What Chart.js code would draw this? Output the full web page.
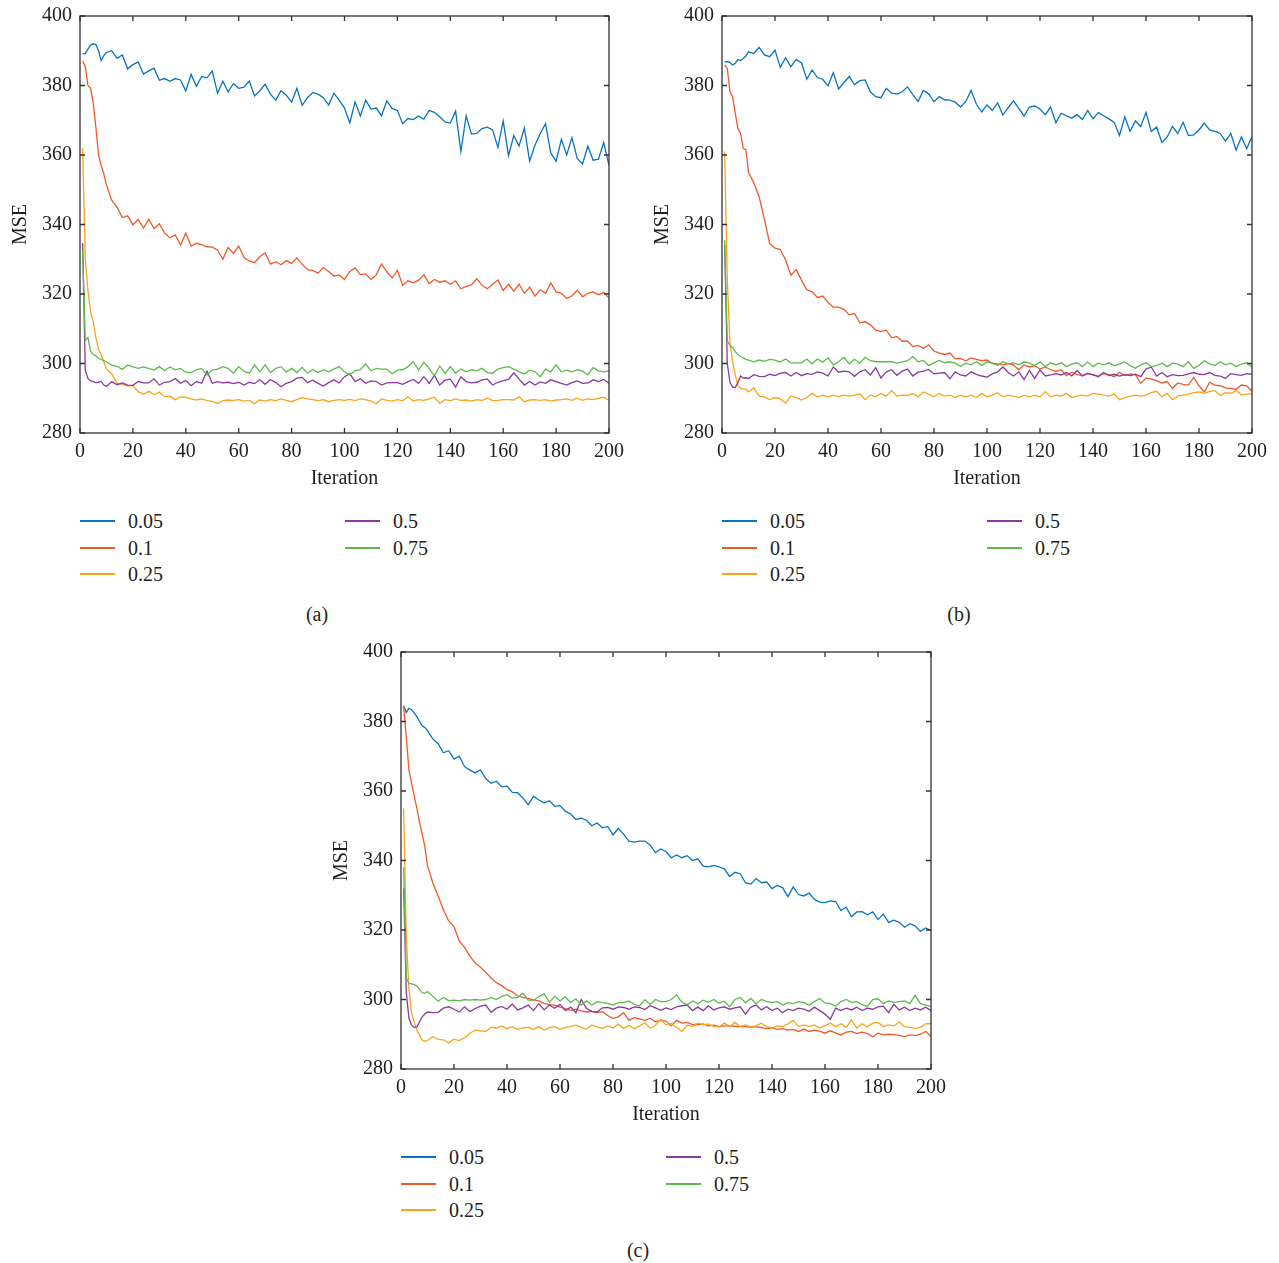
<!DOCTYPE html>
<html lang="en">
<head>
<meta charset="UTF-8">
<title>MSE vs Iteration</title>
<script src="https://cdn.jsdelivr.net/npm/chart.js@4.4.1/dist/chart.umd.min.js"></script>
<style>
  body { margin: 0; background: #fff; width: 1279px; height: 1263px; overflow: hidden; position: relative;
         font-family: 'Liberation Serif', 'Times New Roman', serif; color: #231f20; }
  .panel { position: absolute; }
  .key { position: absolute; font-size: 20px; line-height: 20px; }
  .key .sw { position: absolute; width: 35px; height: 2px; margin-top: -1px; }
  .key .tx { position: absolute; white-space: nowrap; }
  .cap { position: absolute; font-size: 20px; transform: translate(-50%, -50%); }
</style>
</head>
<body>
<div class="panel" id="pa" style="left:0px;top:0px;"><canvas id="ca" width="640" height="500"></canvas></div>
<div class="panel" id="pb" style="left:642px;top:0px;"><canvas id="cb" width="637" height="500"></canvas></div>
<div class="panel" id="pc" style="left:321px;top:636px;"><canvas id="cc" width="640" height="500"></canvas></div>

<script>
// learning rates in the legend
var rates = ['0.05', '0.1', '0.25', '0.5', '0.75'];
var colors = ['#0874C0', '#F0592A', '#F8A51D', '#8A3A9E', '#5DBB4B'];

var iterations = [1,2,3,4,5,6,7,8,9,10,
  12,14,16,18,20,22,24,26,28,30,
  32,34,36,38,40,42,44,46,48,50,
  52,54,56,58,60,62,64,66,68,70,
  72,74,76,78,80,82,84,86,88,90,
  92,94,96,98,100,102,104,106,108,110,
  112,114,116,118,120,122,124,126,128,130,
  132,134,136,138,140,142,144,146,148,150,
  152,154,156,158,160,162,164,166,168,170,
  172,174,176,178,180,182,184,186,188,190,
  192,194,196,198,200];

// ---- panel (a)
var a005 = [389.1,389.2,390.5,391.6,392.0,391.8,390.0,387.2,388.6,389.5,
  390.0,387.8,388.8,384.8,386.0,386.8,383.3,384.2,385.0,381.5,
  382.0,381.2,382.0,381.6,378.4,383.2,379.8,382.6,382.2,384.2,
  377.8,381.2,378.2,380.5,379.2,379.5,381.3,377.0,378.5,380.4,
  377.5,375.8,378.5,377.2,375.2,379.2,374.3,376.5,378.0,377.5,
  376.5,374.4,377.8,375.8,373.5,369.2,375.3,371.2,375.8,373.2,
  373.5,371.3,375.6,373.4,372.8,369.0,370.5,370.2,371.2,370.3,
  372.8,372.3,371.0,369.5,369.2,372.6,361.0,371.3,366.0,366.2,
  367.6,368.0,367.2,362.2,369.8,359.8,365.6,362.6,367.8,358.2,
  362.8,366.2,369.0,360.6,358.2,364.5,360.0,365.0,359.0,357.4,
  362.6,358.5,358.8,363.6,357.0];
var a010 = [387.1,385.4,380.0,379.2,375.0,368.0,360.0,357.0,354.5,351.4,
  347.0,345.0,342.0,342.5,339.9,341.5,339.0,341.5,338.8,340.2,
  337.5,336.2,337.0,334.1,337.5,333.8,334.6,334.2,333.6,333.5,
  332.7,330.0,333.4,331.7,333.8,330.5,329.5,329.0,330.8,331.8,
  328.6,329.3,328.4,329.6,328.8,330.4,328.6,327.0,326.8,326.0,
  327.6,326.5,325.2,325.5,324.2,326.5,327.5,325.6,325.8,324.2,
  325.5,328.6,326.4,324.6,326.8,322.5,323.8,323.2,324.0,325.5,
  323.0,324.2,323.4,323.8,322.8,323.8,321.5,322.2,322.6,324.4,
  322.5,321.5,322.8,324.0,321.0,322.8,320.8,322.8,320.2,322.0,
  319.4,321.2,320.2,323.2,320.6,320.2,318.7,319.5,321.1,319.2,
  320.2,320.6,319.8,320.4,318.8];
var a025 = [362.0,330.0,321.0,315.0,312.0,307.5,304.0,302.5,300.5,298.5,
  297.0,294.3,294.0,293.6,293.6,291.9,291.2,292.0,291.0,291.8,
  290.4,290.6,289.6,290.4,290.3,289.8,289.5,289.8,289.3,289.1,
  288.5,289.3,289.5,289.4,289.6,289.2,289.4,288.4,289.5,289.2,
  289.6,289.3,289.8,289.4,289.0,289.6,290.2,289.8,289.6,289.3,
  289.6,289.0,289.4,289.6,289.4,289.7,289.3,289.8,289.6,289.2,
  288.4,289.8,289.4,289.2,289.6,289.3,290.4,289.2,289.6,289.4,
  289.8,290.3,288.5,289.6,289.3,289.8,289.4,289.5,289.2,289.6,
  289.4,290.0,289.3,289.4,289.6,289.6,289.5,290.4,289.0,289.5,
  289.6,289.4,289.6,289.2,289.5,289.6,289.8,289.4,290.0,289.4,
  289.8,289.6,290.0,290.3,289.4];
var a050 = [334.6,298.0,295.7,295.0,294.8,294.5,294.6,294.9,293.8,293.4,
  294.8,293.9,294.4,293.8,293.7,294.8,294.4,294.4,295.6,293.8,
  294.6,294.8,295.7,294.3,295.1,293.6,294.8,294.3,297.8,294.3,
  294.8,294.4,294.6,294.2,294.6,293.8,294.6,294.2,295.3,294.0,
  295.4,294.5,293.3,294.3,294.8,295.8,296.0,294.5,295.2,294.3,
  293.5,294.5,295.3,294.4,296.2,297.1,294.8,295.6,294.3,295.0,
  294.8,293.8,294.4,294.5,294.5,294.0,294.8,295.4,294.3,296.2,
  294.3,296.6,293.8,295.2,295.5,293.2,296.2,294.8,294.4,294.6,
  295.3,295.5,293.8,294.6,295.1,295.4,297.3,295.5,293.8,294.8,
  293.8,294.7,294.3,295.3,294.8,294.3,293.8,294.5,295.0,294.3,
  294.4,295.3,294.8,295.4,294.3];
var a075 = [332.7,306.6,307.5,303.5,302.6,302.2,301.5,301.2,300.8,300.5,
  299.5,299.2,298.3,299.6,299.0,298.6,299.0,298.6,298.1,299.1,
  297.9,299.0,298.2,298.6,297.5,297.4,298.2,298.6,296.7,298.1,
  298.4,299.1,298.6,297.2,299.1,297.7,297.2,299.6,297.6,299.6,
  297.4,298.6,299.1,297.6,298.6,297.4,298.9,297.2,298.3,297.4,
  298.2,297.6,298.4,299.1,297.6,296.7,297.9,298.2,299.9,297.9,
  298.6,298.4,298.4,297.0,298.1,298.2,299.1,300.5,298.1,300.4,
  298.6,296.4,299.3,297.1,299.1,297.2,298.4,297.6,298.2,297.9,
  298.6,297.4,297.2,298.4,298.8,299.1,298.4,297.6,297.0,298.1,
  297.7,296.2,298.4,297.6,299.6,297.6,298.1,297.6,298.2,297.8,
  296.7,298.8,297.9,297.6,297.9];

// ---- panel (b)
var b005 = [386.7,386.9,386.6,385.9,386.4,387.5,387.2,387.8,388.5,389.7,
  389.2,391.0,388.8,388.3,390.2,385.2,388.0,385.4,387.5,386.5,
  381.8,384.5,382.3,381.8,379.9,383.7,379.0,380.8,382.6,380.2,
  381.4,381.6,378.2,376.8,376.5,379.2,377.8,377.5,378.2,379.6,
  377.4,375.4,378.6,377.6,375.3,376.8,375.9,375.8,375.2,373.8,
  375.4,378.6,374.6,372.4,374.4,372.8,375.0,371.5,373.6,375.6,
  373.4,371.2,373.8,374.1,373.2,371.6,373.8,369.3,372.0,371.3,
  370.6,371.6,370.2,372.8,370.4,372.2,371.3,370.4,369.4,365.6,
  371.0,366.8,369.8,368.2,372.2,366.8,368.0,363.6,365.2,368.2,
  366.2,369.4,365.6,365.8,367.2,369.2,367.2,366.8,366.2,364.0,
  366.2,361.4,365.2,361.8,365.3];
var b010 = [385.9,384.9,378.2,376.8,372.0,367.7,366.2,361.9,361.5,355.0,
  352.0,348.0,341.5,334.5,333.2,332.8,329.8,325.4,327.0,324.0,
  321.2,320.6,319.0,319.4,317.6,316.2,316.2,315.6,314.0,314.4,
  311.7,312.0,311.2,309.6,309.2,309.6,307.4,307.8,306.4,306.4,
  304.9,305.2,304.4,305.4,303.6,303.0,302.6,303.0,301.4,301.5,
  300.8,301.6,301.2,300.8,301.0,300.0,299.9,299.6,300.0,299.6,
  298.2,299.6,299.0,299.4,298.4,299.0,298.2,297.7,298.2,296.5,
  297.5,296.8,296.5,297.2,296.8,296.4,297.1,296.8,296.2,297.4,
  296.6,297.0,296.8,294.3,295.8,295.6,295.0,294.4,294.8,292.8,
  294.4,294.0,293.8,296.0,293.6,291.8,294.6,293.8,293.6,293.0,
  292.8,292.6,293.8,293.6,292.0];
var b025 = [361.0,324.0,306.0,300.6,296.8,293.6,292.9,292.6,292.6,291.8,
  293.0,290.6,290.4,289.6,290.2,289.8,288.6,290.6,290.2,289.5,
  290.2,291.4,290.4,290.9,290.4,290.9,290.4,290.9,290.6,290.9,
  291.2,289.6,290.9,290.4,291.4,290.6,292.2,290.6,290.9,290.8,
  291.4,290.4,291.8,291.2,290.4,291.4,290.6,290.9,290.2,290.9,
  290.4,290.9,290.2,291.4,290.4,290.9,291.6,290.4,290.9,290.6,
  290.2,290.9,290.4,290.9,290.4,291.9,290.4,290.9,290.6,291.4,
  290.2,290.6,290.9,290.6,291.4,291.2,290.9,290.6,291.2,289.6,
  290.2,290.6,290.9,290.6,290.9,291.6,292.0,290.4,291.4,289.6,
  290.6,290.9,291.2,291.6,291.8,291.4,291.9,292.2,290.8,291.6,
  291.4,292.2,291.0,291.2,291.2];
var b050 = [334.1,300.0,294.6,293.2,293.1,294.5,296.4,295.8,295.9,295.7,
  296.8,296.3,296.2,296.9,296.5,297.2,297.4,296.4,297.4,296.5,
  297.1,296.9,297.6,297.2,296.4,299.0,297.5,297.8,297.6,296.3,
  297.6,298.2,296.7,298.8,295.8,297.6,298.2,296.6,297.8,298.4,
  296.4,297.5,297.8,298.3,297.0,297.2,297.4,295.6,297.6,296.7,
  296.4,297.6,296.9,296.4,296.1,297.0,297.6,299.0,297.4,296.4,
  297.6,295.4,298.0,295.7,298.2,296.4,296.7,297.1,296.7,297.4,
  296.4,298.0,296.4,297.1,296.7,296.2,297.4,296.5,296.9,296.4,
  296.8,296.5,296.9,296.2,298.4,299.0,296.4,297.4,296.2,296.8,
  296.5,296.6,297.0,297.4,296.9,296.8,297.4,296.6,296.4,295.7,
  297.1,296.8,296.6,297.1,296.9];
var b075 = [335.5,306.5,305.2,304.6,303.4,302.6,302.0,301.6,301.2,301.0,
  300.5,301.0,300.6,301.2,301.0,300.4,301.3,300.2,300.2,300.2,
  301.3,299.9,301.3,300.4,301.6,299.6,300.5,301.8,299.9,301.2,
  300.1,301.8,300.8,300.5,300.5,300.5,300.5,300.1,300.5,300.8,
  302.0,300.5,300.9,299.4,300.2,300.9,300.2,300.5,300.1,299.2,
  300.1,299.6,300.5,299.4,300.5,300.2,299.4,300.5,299.9,300.2,
  299.6,300.5,300.1,299.4,300.5,299.1,300.2,299.6,300.2,299.1,
  299.8,300.2,299.1,300.5,299.1,300.1,299.6,300.2,299.4,299.8,
  300.5,299.4,298.6,299.6,300.2,299.1,299.4,300.1,299.1,300.1,
  299.8,299.1,300.5,298.6,299.4,300.8,299.9,299.4,300.5,299.6,
  300.1,299.1,299.8,300.2,298.9];

// ---- panel (c)
var c005 = [384.5,382.6,383.8,383.4,382.4,381.4,380.0,378.8,378.3,377.4,
  375.0,373.6,371.0,371.6,369.2,370.0,367.0,366.0,365.2,366.1,
  363.6,362.2,362.8,361.2,361.4,359.6,359.5,358.0,356.0,358.5,
  357.4,356.6,357.2,355.6,355.8,354.2,353.4,351.8,352.2,351.6,
  350.0,350.8,349.4,349.8,347.4,349.2,347.6,345.6,345.3,345.6,
  345.6,344.5,342.3,343.3,342.6,340.8,341.6,340.8,341.4,340.0,
  340.5,338.4,338.2,338.6,338.2,337.6,335.4,336.6,336.2,333.6,
  333.2,334.8,333.6,333.8,331.9,332.8,332.2,329.6,332.4,330.2,
  329.8,330.6,328.8,328.0,327.9,328.4,328.2,325.6,326.6,323.8,
  325.2,325.3,324.4,325.2,323.0,324.6,322.2,322.8,322.2,320.8,
  321.8,321.2,319.6,320.6,319.8];
var c010 = [384.3,375.5,366.0,362.2,358.5,355.0,351.0,347.5,344.0,338.5,
  333.6,329.8,325.8,322.6,321.0,316.8,315.0,312.5,310.5,309.3,
  307.8,306.2,304.8,304.0,302.9,302.2,301.0,300.6,300.3,299.9,
  299.6,298.9,298.5,298.4,297.8,297.4,296.8,297.2,296.7,296.4,
  296.6,296.2,296.5,295.4,294.6,295.0,296.2,294.0,294.8,294.4,
  294.0,294.6,293.6,294.0,293.8,292.4,294.0,293.2,293.4,292.8,
  292.8,293.0,292.4,292.6,292.2,292.4,292.4,292.3,292.2,292.2,
  292.0,292.2,291.9,291.6,291.8,291.4,291.6,291.2,291.4,290.8,
  291.5,290.8,291.2,290.9,290.3,291.0,290.4,289.8,290.6,290.8,
  290.2,290.6,290.2,289.3,290.3,289.8,290.0,289.9,289.7,289.3,
  289.8,289.6,290.0,290.8,289.4];
var c025 = [355.0,318.0,303.0,296.0,293.5,291.2,289.6,288.3,288.0,288.2,
  289.3,288.5,288.4,287.5,288.6,288.2,289.0,290.3,291.2,291.0,
  290.8,292.0,291.8,292.4,291.6,292.2,291.4,291.8,292.0,291.4,
  292.2,291.2,291.9,292.2,291.4,292.0,292.2,292.6,292.0,291.5,
  292.6,292.1,291.7,292.4,291.8,292.9,291.7,292.6,291.6,292.4,
  293.3,291.8,292.6,294.3,292.7,293.1,292.0,290.8,292.6,292.2,
  293.2,292.7,293.0,292.2,292.1,293.2,292.2,293.4,292.2,292.7,
  292.1,292.4,293.2,292.2,291.8,292.4,292.2,293.0,294.0,292.2,
  292.7,292.2,292.7,291.8,292.5,293.2,292.2,293.0,292.0,294.1,
  291.7,293.0,292.1,293.2,293.4,292.2,292.7,292.4,293.5,292.2,
  292.0,291.7,292.0,293.0,293.1];
var c050 = [332.0,302.0,294.6,292.6,292.0,292.1,293.6,295.0,295.8,296.4,
  296.2,296.3,297.5,297.9,297.2,296.4,297.9,296.5,297.4,298.1,
  298.4,296.3,297.5,298.0,297.2,298.7,297.0,297.6,298.4,296.8,
  298.8,297.0,298.4,297.5,298.6,296.8,297.8,296.2,300.0,297.4,
  296.6,296.4,297.6,297.7,297.2,297.9,297.7,297.2,297.9,297.7,
  297.1,298.2,297.6,296.9,297.6,297.1,297.9,298.2,298.4,296.8,
  297.8,296.8,298.2,297.0,297.6,297.9,297.2,297.6,297.9,295.8,
  297.8,298.4,297.0,297.9,296.8,297.5,296.2,297.2,296.8,297.5,
  297.2,296.6,297.8,296.8,295.8,294.3,297.5,296.8,297.5,297.0,
  297.8,296.8,297.5,297.2,297.9,298.1,296.2,298.6,297.0,297.8,
  296.8,297.5,297.0,297.8,296.8];
var c075 = [338.0,306.2,304.6,304.5,304.3,303.9,302.9,302.0,301.8,302.3,
  300.9,299.5,300.6,299.7,299.8,299.6,300.0,299.8,300.0,299.8,
  300.0,300.6,300.0,300.9,301.4,300.4,300.6,301.8,299.8,299.8,
  300.8,301.6,299.2,300.9,299.6,300.8,299.1,300.2,298.4,299.6,
  298.4,299.4,299.1,298.9,298.4,299.1,299.1,299.6,298.6,298.2,
  299.9,298.6,300.0,299.4,299.4,300.0,301.3,299.2,298.5,299.6,
  298.8,299.8,299.2,300.0,298.9,299.5,297.9,300.0,300.6,299.1,
  300.3,298.8,300.0,299.4,299.2,299.4,298.4,299.1,298.8,299.4,
  299.1,298.4,299.4,300.3,299.0,298.8,298.1,299.4,300.0,299.2,
  299.4,298.5,298.0,300.0,300.2,298.8,299.6,299.2,299.4,299.6,
  298.8,301.2,298.8,298.4,298.0];

// axis ranges
var xMin = 0, xMax = 200, xStep = 20;
var yMin = 280, yMax = 400, yStep = 20;

Chart.defaults.font.family = "'Liberation Serif', 'Times New Roman', serif";
Chart.defaults.font.size = 20;
Chart.defaults.color = '#231f20';
Chart.defaults.animation = false;

// box round the plot with inward tick marks on all four sides
var framePlugin = {
  id: 'frame',
  afterDatasetsDraw: function (chart) {
    var ctx = chart.ctx, a = chart.chartArea;
    var x = chart.scales.x, y = chart.scales.y;
    ctx.save();
    ctx.strokeStyle = '#333333';
    ctx.lineWidth = 1.3;
    ctx.strokeRect(a.left, a.top, a.right - a.left, a.bottom - a.top);
    ctx.beginPath();
    x.ticks.forEach(function (t) {
      var px = x.getPixelForValue(t.value);
      ctx.moveTo(px, a.bottom); ctx.lineTo(px, a.bottom - 5);
      ctx.moveTo(px, a.top); ctx.lineTo(px, a.top + 5);
    });
    y.ticks.forEach(function (t) {
      var py = y.getPixelForValue(t.value);
      ctx.moveTo(a.left, py); ctx.lineTo(a.left + 5, py);
      ctx.moveTo(a.right, py); ctx.lineTo(a.right - 5, py);
    });
    ctx.stroke();
    ctx.restore();
  }
};

function makePanel(id, series, padRight) {
  var datasets = series.map(function (vals, i) {
    return {
      label: rates[i],
      data: iterations.map(function (it, k) { return { x: it, y: vals[k] }; }),
      borderColor: colors[i],
      borderWidth: 1.3,
      pointRadius: 0,
      fill: false,
      tension: 0,
      order: series.length - i
    };
  });
  return new Chart(document.getElementById(id), {
    type: 'line',
    data: { datasets: datasets },
    plugins: [framePlugin],
    options: {
      responsive: false,
      layout: { padding: { top: 16, right: padRight, left: 0, bottom: 0 } },
      plugins: { legend: { display: false }, tooltip: { enabled: false } },
      scales: {
        x: {
          type: 'linear', min: xMin, max: xMax,
          ticks: { stepSize: xStep, padding: 7 },
          grid: { display: false, drawTicks: false },
          border: { display: false },
          title: { display: true, text: 'Iteration', padding: { top: 0, bottom: 9 } },
          afterFit: function (s) { s.height = 67; }
        },
        y: {
          min: yMin, max: yMax,
          ticks: { stepSize: yStep, padding: 8 },
          grid: { display: false, drawTicks: false },
          border: { display: false },
          title: { display: true, text: 'MSE', padding: { top: 9, bottom: 0 } },
          afterFit: function (s) { s.width = 80; s.paddingTop = 0; s.paddingBottom = 0; }
        }
      }
    }
  });
}

makePanel('ca', [a005, a010, a025, a050, a075], 31);
makePanel('cb', [b005, b010, b025, b050, b075], 27);
makePanel('cc', [c005, c010, c025, c050, c075], 30);

// legends (two columns) and sub-figure captions
function addKey(left, top, caption) {
  var box = document.createElement('div');
  box.className = 'key';
  box.style.left = left + 'px';
  box.style.top = top + 'px';
  rates.forEach(function (r, i) {
    var col = i < 3 ? 0 : 1, row = i < 3 ? i : i - 3;
    var sw = document.createElement('div');
    sw.className = 'sw';
    sw.style.background = colors[i];
    sw.style.left = (col * 265) + 'px';
    sw.style.top = (row * 26.5) + 'px';
    var tx = document.createElement('div');
    tx.className = 'tx';
    tx.textContent = r;
    tx.style.left = (col * 265 + 48) + 'px';
    tx.style.top = (row * 26.5 - 10) + 'px';
    box.appendChild(sw);
    box.appendChild(tx);
  });
  document.body.appendChild(box);
  var cap = document.createElement('div');
  cap.className = 'cap';
  cap.textContent = caption;
  cap.style.left = (left + 237) + 'px';
  cap.style.top = (top + 93) + 'px';
  document.body.appendChild(cap);
}

addKey(80, 521, '(a)');
addKey(722, 521, '(b)');
addKey(401, 1157, '(c)');
</script>
</body>
</html>
